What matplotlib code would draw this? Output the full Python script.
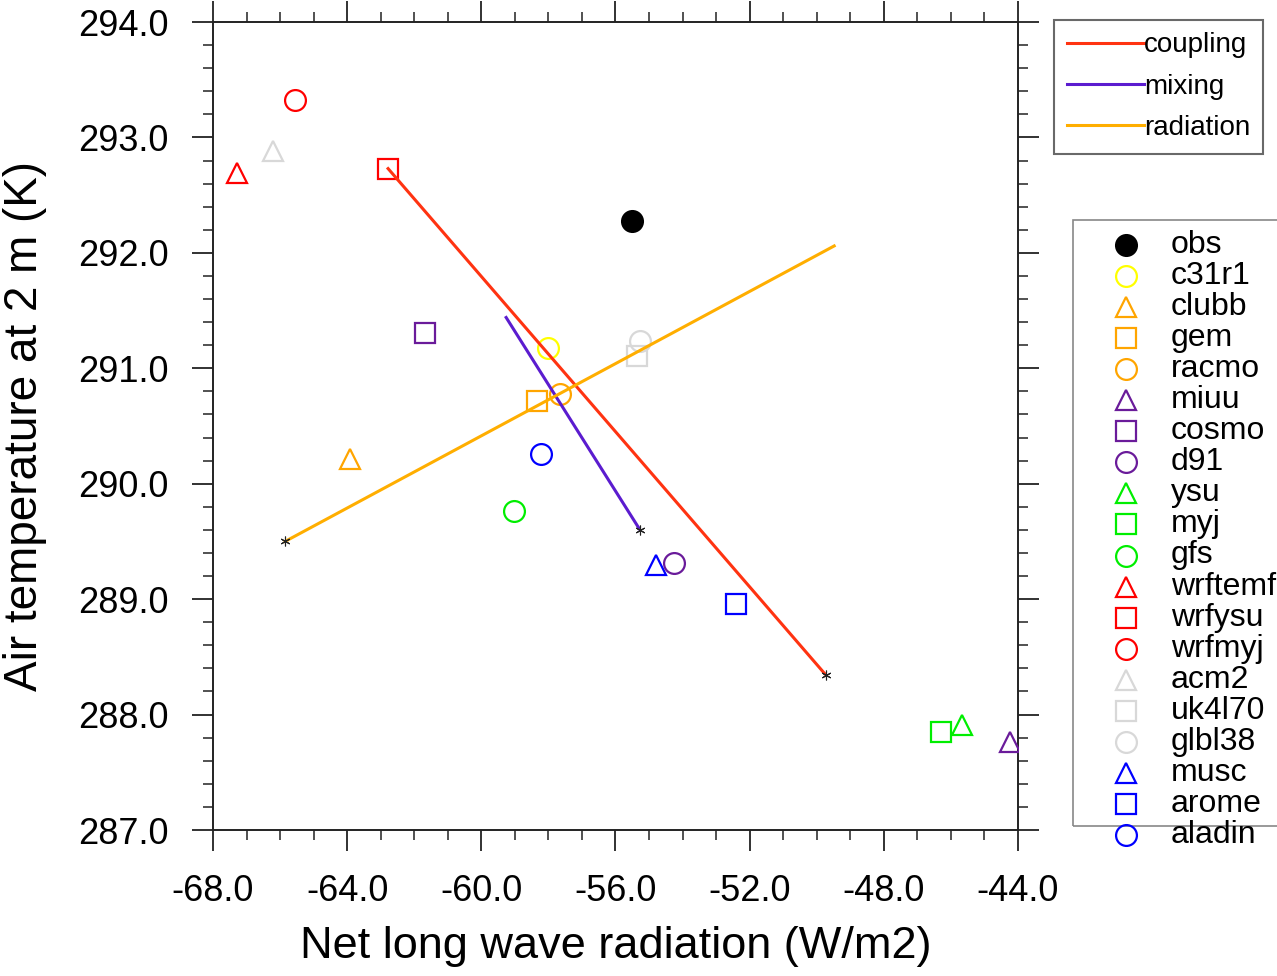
import matplotlib
matplotlib.use("Agg")
import matplotlib.pyplot as plt
from matplotlib.patches import Rectangle
from matplotlib.ticker import MultipleLocator, FormatStrFormatter

plt.rcParams['font.family'] = ['Liberation Sans', 'DejaVu Sans']

# model results: net long wave radiation (W/m2) vs 2 m air temperature (K)
models = ['obs', 'c31r1', 'clubb', 'gem', 'racmo', 'miuu', 'cosmo', 'd91',
          'ysu', 'myj', 'gfs', 'wrftemf', 'wrfysu', 'wrfmyj', 'acm2',
          'uk4l70', 'glbl38', 'musc', 'arome', 'aladin']
lw_rad = [-55.5, -58.0, -63.92, -58.34, -57.65, -44.24, -61.68, -54.26,
          -45.67, -46.29, -59.03, -67.28, -62.78, -65.56, -66.21,
          -55.36, -55.27, -54.79, -52.41, -58.22]
t2m = [292.28, 291.18, 290.21, 290.72, 290.78, 287.76, 291.31, 289.31,
       287.91, 287.85, 289.76, 292.69, 292.73, 293.32, 292.88,
       291.11, 291.24, 289.30, 288.96, 290.26]
markers = ['o', 'o', '^', 's', 'o', '^', 's', 'o', '^', 's', 'o',
           '^', 's', 'o', '^', 's', 'o', '^', 's', 'o']
colors = ['black', '#FFFF00', '#FFA500', '#FFA500', '#FFA500',
          '#6A1B9A', '#6A1B9A', '#6A1B9A', '#00EE00', '#00EE00', '#00EE00',
          '#FF0000', '#FF0000', '#FF0000', '#D8D8D8', '#D8D8D8', '#D8D8D8',
          '#0000FF', '#0000FF', '#0000FF']

# sensitivity lines; the last point of each carries the asterisk
line_names = ['coupling', 'mixing', 'radiation']
line_x = [[-62.78, -49.72], [-59.26, -55.27], [-49.48, -65.85]]
line_y = [[292.73, 288.34], [291.44, 289.60], [292.06, 289.50]]
line_colors = ['#FF3311', '#5B1CCF', '#FFAE00']

W, H = 1277, 976
fig = plt.figure(figsize=(W / 100, H / 100), dpi=100)
ax = fig.add_axes([213 / W, 1 - 830 / H, (1018 - 213) / W, (830 - 22) / H])

for x, y, m, c in zip(lw_rad, t2m, markers, colors):
    filled = m == 'o' and c == 'black'
    ax.plot(x, y, marker=m, ms=15, mew=1.6, mec=c,
            mfc=c if filled else 'none', ls='none', zorder=3)

for name, xs, ys, c in zip(line_names, line_x, line_y, line_colors):
    ax.plot(xs, ys, color=c, lw=2.2, label=name, zorder=4)
    ax.plot(xs[-1], ys[-1], marker=(6, 2, 0), ms=7, mew=0.8, color='#222222',
            zorder=5)

ax.set_xlim(-68, -44)
ax.set_ylim(287, 294)
ax.xaxis.set_major_locator(MultipleLocator(4))
ax.xaxis.set_minor_locator(MultipleLocator(1))
ax.yaxis.set_major_locator(MultipleLocator(1))
ax.yaxis.set_minor_locator(MultipleLocator(0.2))
ax.xaxis.set_major_formatter(FormatStrFormatter('%.1f'))
ax.yaxis.set_major_formatter(FormatStrFormatter('%.1f'))
ax.tick_params(which='both', direction='out', top=True, right=True,
               labeltop=False, labelright=False, color='#222222')
ax.tick_params(which='major', length=15, width=1.3, labelsize=26, pad=17)
ax.tick_params(which='minor', length=7.5, width=1.1)
for s in ax.spines.values():
    s.set_linewidth(1.4)
    s.set_color('#222222')

ax.set_xlabel('Net long wave radiation (W/m2)', fontsize=32.5, labelpad=12)
ax.set_ylabel('Air temperature at 2 m (K)', fontsize=33, labelpad=22)

# line legend (top right)
leg = ax.legend(loc='upper left', bbox_to_anchor=(1054 / W, 1 - 20 / H),
                bbox_transform=fig.transFigure, fontsize=20, frameon=True,
                fancybox=False, edgecolor='#444444', handlelength=2.8,
                handletextpad=0.0, labelspacing=0.55, borderpad=0.45,
                borderaxespad=0)
leg.get_frame().set_linewidth(1.5)

# marker legend (right), drawn in figure pixels
tf = fig.transFigure
fig.patches.append(Rectangle((1073 / W, 1 - 826 / H), 260 / W, 606 / H,
                             transform=tf, fill=False, ec='#888888', lw=1.2))
for i, (name, m, c) in enumerate(zip(models, markers, colors)):
    yy = 1 - (245 + i * 31.05) / H
    filled = m == 'o' and c == 'black'
    fig.add_artist(plt.Line2D([1126 / W], [yy], transform=tf, marker=m,
                              ms=15, mew=1.6, mec=c,
                              mfc=c if filled else 'none', ls='none'))
    fig.text(1171 / W, yy, name, transform=tf, fontsize=23,
             va='center', ha='left')

fig.savefig('out.png', dpi=100)
